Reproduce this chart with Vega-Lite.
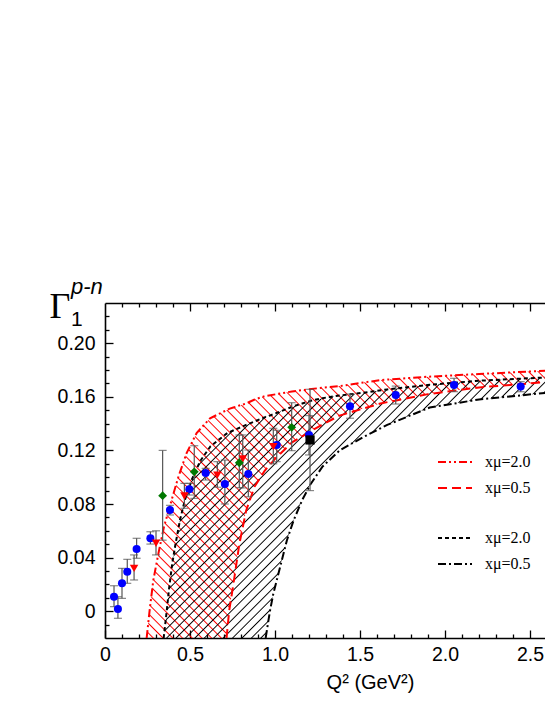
{
"$schema": "https://vega.github.io/schema/vega-lite/v6.json",
"width": 440, "height": 335,
"autosize": {"type": "none"},
"padding": {"left": 105, "top": 303, "right": 0, "bottom": 67},
"background": "white",
"config": {"view": {"stroke": null}, "axis": {"grid": false}},
"title": {"text": "p-n", "subtitle": "1", "anchor": "start", "frame": "group", "dx": -34, "offset": -43, "font": "Liberation Sans", "fontSize": 22, "fontStyle": "italic", "fontWeight": "normal", "color": "black", "subtitleFont": "Liberation Sans", "subtitleFontSize": 21, "subtitleColor": "black", "subtitlePadding": 10},
"datasets": {
"red": [
{"x":0.245,"up":-0.02,"lo":-0.02},{"x":0.262,"up":0.0,"lo":-0.02},{"x":0.284,"up":0.023,"lo":-0.02},{"x":0.314,"up":0.043,"lo":-0.02},{"x":0.347,"up":0.063,"lo":-0.02},{"x":0.392,"up":0.083,"lo":-0.02},{"x":0.431,"up":0.1,"lo":-0.02},{"x":0.48,"up":0.118,"lo":-0.02},{"x":0.539,"up":0.133,"lo":-0.02},{"x":0.618,"up":0.144,"lo":-0.02},{"x":0.715,"up":0.15,"lo":-0.02},{"x":0.73,"up":0.151,"lo":0.0},{"x":0.755,"up":0.152,"lo":0.02},{"x":0.79,"up":0.1535,"lo":0.05},{"x":0.83,"up":0.155,"lo":0.075},{"x":0.88,"up":0.158,"lo":0.093},{"x":0.94,"up":0.1605,"lo":0.105},{"x":1.01,"up":0.162,"lo":0.115},{"x":1.1,"up":0.164,"lo":0.126},{"x":1.26,"up":0.1665,"lo":0.138},{"x":1.38,"up":0.168,"lo":0.146},{"x":1.62,"up":0.1725,"lo":0.155},{"x":1.9,"up":0.175,"lo":0.162},{"x":2.2,"up":0.177,"lo":0.167},{"x":2.6,"up":0.1795,"lo":0.171}
],
"black": [
{"x":0.345,"up":-0.02,"lo":-0.02},{"x":0.363,"up":0.0,"lo":-0.02},{"x":0.376,"up":0.016,"lo":-0.02},{"x":0.396,"up":0.036,"lo":-0.02},{"x":0.416,"up":0.051,"lo":-0.02},{"x":0.441,"up":0.068,"lo":-0.02},{"x":0.47,"up":0.083,"lo":-0.02},{"x":0.51,"up":0.098,"lo":-0.02},{"x":0.56,"up":0.112,"lo":-0.02},{"x":0.62,"up":0.123,"lo":-0.02},{"x":0.72,"up":0.133,"lo":-0.02},{"x":0.83,"up":0.139,"lo":-0.02},{"x":0.945,"up":0.145,"lo":-0.02},{"x":0.97,"up":0.146,"lo":0.0},{"x":0.99,"up":0.147,"lo":0.013},{"x":1.03,"up":0.149,"lo":0.033},{"x":1.07,"up":0.151,"lo":0.053},{"x":1.11,"up":0.153,"lo":0.068},{"x":1.16,"up":0.155,"lo":0.083},{"x":1.21,"up":0.157,"lo":0.095},{"x":1.28,"up":0.159,"lo":0.108},{"x":1.38,"up":0.161,"lo":0.12},{"x":1.52,"up":0.163,"lo":0.13},{"x":1.66,"up":0.1655,"lo":0.139},{"x":1.91,"up":0.169,"lo":0.152},{"x":2.2,"up":0.172,"lo":0.158},{"x":2.6,"up":0.1745,"lo":0.163}
],
"pts": [
{"s":"blue","x":0.053,"y":0.0108,"lo":0.0034,"hi":0.019},
{"s":"blue","x":0.076,"y":0.0016,"lo":-0.0053,"hi":0.0108},
{"s":"blue","x":0.1,"y":0.0208,"lo":0.0096,"hi":0.032},
{"s":"blue","x":0.131,"y":0.0295,"lo":0.0208,"hi":0.0387},
{"s":"blue","x":0.186,"y":0.0464,"lo":0.0395,"hi":0.0544},
{"s":"blue","x":0.267,"y":0.0544,"lo":0.0501,"hi":0.0593},
{"s":"blue","x":0.382,"y":0.0755,"lo":0.0718,"hi":0.079},
{"s":"blue","x":0.496,"y":0.091,"lo":0.0867,"hi":0.0954},
{"s":"blue","x":0.592,"y":0.1031,"lo":0.0979,"hi":0.1066},
{"s":"blue","x":0.705,"y":0.0949,"lo":0.08,"hi":0.1128},
{"s":"blue","x":0.843,"y":0.1024,"lo":0.0854,"hi":0.1203},
{"s":"blue","x":1.01,"y":0.124,"lo":0.1116,"hi":0.135},
{"s":"blue","x":1.2,"y":0.1315,"lo":0.1166,"hi":0.146},
{"s":"blue","x":1.441,"y":0.153,"lo":0.144,"hi":0.162},
{"s":"blue","x":1.71,"y":0.1613,"lo":0.1546,"hi":0.168},
{"s":"blue","x":2.053,"y":0.1688,"lo":0.1638,"hi":0.1738},
{"s":"blue","x":2.445,"y":0.1676,"lo":0.1638,"hi":0.1713},
{"s":"red","x":0.171,"y":0.032,"lo":0.0233,"hi":0.042},
{"s":"red","x":0.3,"y":0.0507,"lo":0.042,"hi":0.06},
{"s":"red","x":0.467,"y":0.086,"lo":0.0768,"hi":0.0954},
{"s":"red","x":0.661,"y":0.1016,"lo":0.0925,"hi":0.1116},
{"s":"red","x":0.81,"y":0.1136,"lo":0.092,"hi":0.1315},
{"s":"red","x":0.99,"y":0.1228,"lo":0.11,"hi":0.1365},
{"s":"green","x":0.339,"y":0.0862,"lo":0.053,"hi":0.12},
{"s":"green","x":0.525,"y":0.104,"lo":0.0842,"hi":0.1235},
{"s":"green","x":0.79,"y":0.1108,"lo":0.0922,"hi":0.1315},
{"s":"green","x":1.098,"y":0.1372,"lo":0.1198,"hi":0.1556},
{"s":"black","x":1.206,"y":0.1278,"lo":0.09,"hi":0.1656}
]
},
"layer": [
{
"data": {"name": "red"},
"mark": {"type": "area", "clip": true, "stroke": null, "fill": {"gradient": "linear", "x1": 1, "y1": 0, "x2": -0.2, "y2": 0.8, "stops": [
{"offset":0.012,"color":"rgba(255,0,0,0)"},{"offset":0.014,"color":"#f00"},{"offset":0.016,"color":"rgba(255,0,0,0)"},
{"offset":0.026,"color":"rgba(255,0,0,0)"},{"offset":0.028,"color":"#f00"},{"offset":0.030,"color":"rgba(255,0,0,0)"},
{"offset":0.040,"color":"rgba(255,0,0,0)"},{"offset":0.042,"color":"#f00"},{"offset":0.044,"color":"rgba(255,0,0,0)"},
{"offset":0.054,"color":"rgba(255,0,0,0)"},{"offset":0.056,"color":"#f00"},{"offset":0.058,"color":"rgba(255,0,0,0)"},
{"offset":0.068,"color":"rgba(255,0,0,0)"},{"offset":0.070,"color":"#f00"},{"offset":0.072,"color":"rgba(255,0,0,0)"},
{"offset":0.082,"color":"rgba(255,0,0,0)"},{"offset":0.084,"color":"#f00"},{"offset":0.086,"color":"rgba(255,0,0,0)"},
{"offset":0.096,"color":"rgba(255,0,0,0)"},{"offset":0.098,"color":"#f00"},{"offset":0.100,"color":"rgba(255,0,0,0)"},
{"offset":0.110,"color":"rgba(255,0,0,0)"},{"offset":0.112,"color":"#f00"},{"offset":0.114,"color":"rgba(255,0,0,0)"},
{"offset":0.124,"color":"rgba(255,0,0,0)"},{"offset":0.126,"color":"#f00"},{"offset":0.128,"color":"rgba(255,0,0,0)"},
{"offset":0.138,"color":"rgba(255,0,0,0)"},{"offset":0.140,"color":"#f00"},{"offset":0.142,"color":"rgba(255,0,0,0)"},
{"offset":0.152,"color":"rgba(255,0,0,0)"},{"offset":0.154,"color":"#f00"},{"offset":0.156,"color":"rgba(255,0,0,0)"},
{"offset":0.166,"color":"rgba(255,0,0,0)"},{"offset":0.168,"color":"#f00"},{"offset":0.170,"color":"rgba(255,0,0,0)"},
{"offset":0.180,"color":"rgba(255,0,0,0)"},{"offset":0.182,"color":"#f00"},{"offset":0.184,"color":"rgba(255,0,0,0)"},
{"offset":0.194,"color":"rgba(255,0,0,0)"},{"offset":0.196,"color":"#f00"},{"offset":0.198,"color":"rgba(255,0,0,0)"},
{"offset":0.208,"color":"rgba(255,0,0,0)"},{"offset":0.210,"color":"#f00"},{"offset":0.212,"color":"rgba(255,0,0,0)"},
{"offset":0.222,"color":"rgba(255,0,0,0)"},{"offset":0.224,"color":"#f00"},{"offset":0.226,"color":"rgba(255,0,0,0)"},
{"offset":0.236,"color":"rgba(255,0,0,0)"},{"offset":0.238,"color":"#f00"},{"offset":0.240,"color":"rgba(255,0,0,0)"},
{"offset":0.250,"color":"rgba(255,0,0,0)"},{"offset":0.252,"color":"#f00"},{"offset":0.254,"color":"rgba(255,0,0,0)"},
{"offset":0.264,"color":"rgba(255,0,0,0)"},{"offset":0.266,"color":"#f00"},{"offset":0.268,"color":"rgba(255,0,0,0)"},
{"offset":0.278,"color":"rgba(255,0,0,0)"},{"offset":0.280,"color":"#f00"},{"offset":0.282,"color":"rgba(255,0,0,0)"},
{"offset":0.292,"color":"rgba(255,0,0,0)"},{"offset":0.294,"color":"#f00"},{"offset":0.296,"color":"rgba(255,0,0,0)"},
{"offset":0.306,"color":"rgba(255,0,0,0)"},{"offset":0.308,"color":"#f00"},{"offset":0.310,"color":"rgba(255,0,0,0)"},
{"offset":0.320,"color":"rgba(255,0,0,0)"},{"offset":0.322,"color":"#f00"},{"offset":0.324,"color":"rgba(255,0,0,0)"},
{"offset":0.334,"color":"rgba(255,0,0,0)"},{"offset":0.336,"color":"#f00"},{"offset":0.338,"color":"rgba(255,0,0,0)"},
{"offset":0.348,"color":"rgba(255,0,0,0)"},{"offset":0.350,"color":"#f00"},{"offset":0.352,"color":"rgba(255,0,0,0)"},
{"offset":0.362,"color":"rgba(255,0,0,0)"},{"offset":0.364,"color":"#f00"},{"offset":0.366,"color":"rgba(255,0,0,0)"},
{"offset":0.376,"color":"rgba(255,0,0,0)"},{"offset":0.378,"color":"#f00"},{"offset":0.380,"color":"rgba(255,0,0,0)"},
{"offset":0.390,"color":"rgba(255,0,0,0)"},{"offset":0.392,"color":"#f00"},{"offset":0.394,"color":"rgba(255,0,0,0)"},
{"offset":0.404,"color":"rgba(255,0,0,0)"},{"offset":0.406,"color":"#f00"},{"offset":0.408,"color":"rgba(255,0,0,0)"},
{"offset":0.418,"color":"rgba(255,0,0,0)"},{"offset":0.420,"color":"#f00"},{"offset":0.422,"color":"rgba(255,0,0,0)"},
{"offset":0.432,"color":"rgba(255,0,0,0)"},{"offset":0.434,"color":"#f00"},{"offset":0.436,"color":"rgba(255,0,0,0)"},
{"offset":0.446,"color":"rgba(255,0,0,0)"},{"offset":0.448,"color":"#f00"},{"offset":0.450,"color":"rgba(255,0,0,0)"},
{"offset":0.460,"color":"rgba(255,0,0,0)"},{"offset":0.462,"color":"#f00"},{"offset":0.464,"color":"rgba(255,0,0,0)"},
{"offset":0.474,"color":"rgba(255,0,0,0)"},{"offset":0.476,"color":"#f00"},{"offset":0.478,"color":"rgba(255,0,0,0)"},
{"offset":0.488,"color":"rgba(255,0,0,0)"},{"offset":0.490,"color":"#f00"},{"offset":0.492,"color":"rgba(255,0,0,0)"},
{"offset":0.502,"color":"rgba(255,0,0,0)"},{"offset":0.504,"color":"#f00"},{"offset":0.506,"color":"rgba(255,0,0,0)"},
{"offset":0.516,"color":"rgba(255,0,0,0)"},{"offset":0.518,"color":"#f00"},{"offset":0.520,"color":"rgba(255,0,0,0)"},
{"offset":0.530,"color":"rgba(255,0,0,0)"},{"offset":0.532,"color":"#f00"},{"offset":0.534,"color":"rgba(255,0,0,0)"},
{"offset":0.544,"color":"rgba(255,0,0,0)"},{"offset":0.546,"color":"#f00"},{"offset":0.548,"color":"rgba(255,0,0,0)"},
{"offset":0.558,"color":"rgba(255,0,0,0)"},{"offset":0.560,"color":"#f00"},{"offset":0.562,"color":"rgba(255,0,0,0)"},
{"offset":0.572,"color":"rgba(255,0,0,0)"},{"offset":0.574,"color":"#f00"},{"offset":0.576,"color":"rgba(255,0,0,0)"},
{"offset":0.586,"color":"rgba(255,0,0,0)"},{"offset":0.588,"color":"#f00"},{"offset":0.590,"color":"rgba(255,0,0,0)"},
{"offset":0.600,"color":"rgba(255,0,0,0)"},{"offset":0.602,"color":"#f00"},{"offset":0.604,"color":"rgba(255,0,0,0)"},
{"offset":0.614,"color":"rgba(255,0,0,0)"},{"offset":0.616,"color":"#f00"},{"offset":0.618,"color":"rgba(255,0,0,0)"},
{"offset":0.628,"color":"rgba(255,0,0,0)"},{"offset":0.630,"color":"#f00"},{"offset":0.632,"color":"rgba(255,0,0,0)"},
{"offset":0.642,"color":"rgba(255,0,0,0)"},{"offset":0.644,"color":"#f00"},{"offset":0.646,"color":"rgba(255,0,0,0)"},
{"offset":0.656,"color":"rgba(255,0,0,0)"},{"offset":0.658,"color":"#f00"},{"offset":0.660,"color":"rgba(255,0,0,0)"},
{"offset":0.670,"color":"rgba(255,0,0,0)"},{"offset":0.672,"color":"#f00"},{"offset":0.674,"color":"rgba(255,0,0,0)"},
{"offset":0.684,"color":"rgba(255,0,0,0)"},{"offset":0.686,"color":"#f00"},{"offset":0.688,"color":"rgba(255,0,0,0)"},
{"offset":0.698,"color":"rgba(255,0,0,0)"},{"offset":0.700,"color":"#f00"},{"offset":0.702,"color":"rgba(255,0,0,0)"},
{"offset":0.712,"color":"rgba(255,0,0,0)"},{"offset":0.714,"color":"#f00"},{"offset":0.716,"color":"rgba(255,0,0,0)"},
{"offset":0.726,"color":"rgba(255,0,0,0)"},{"offset":0.728,"color":"#f00"},{"offset":0.730,"color":"rgba(255,0,0,0)"},
{"offset":0.740,"color":"rgba(255,0,0,0)"},{"offset":0.742,"color":"#f00"},{"offset":0.744,"color":"rgba(255,0,0,0)"},
{"offset":0.754,"color":"rgba(255,0,0,0)"},{"offset":0.756,"color":"#f00"},{"offset":0.758,"color":"rgba(255,0,0,0)"},
{"offset":0.768,"color":"rgba(255,0,0,0)"},{"offset":0.770,"color":"#f00"},{"offset":0.772,"color":"rgba(255,0,0,0)"},
{"offset":0.782,"color":"rgba(255,0,0,0)"},{"offset":0.784,"color":"#f00"},{"offset":0.786,"color":"rgba(255,0,0,0)"},
{"offset":0.796,"color":"rgba(255,0,0,0)"},{"offset":0.798,"color":"#f00"},{"offset":0.800,"color":"rgba(255,0,0,0)"},
{"offset":0.810,"color":"rgba(255,0,0,0)"},{"offset":0.812,"color":"#f00"},{"offset":0.814,"color":"rgba(255,0,0,0)"},
{"offset":0.824,"color":"rgba(255,0,0,0)"},{"offset":0.826,"color":"#f00"},{"offset":0.828,"color":"rgba(255,0,0,0)"},
{"offset":0.838,"color":"rgba(255,0,0,0)"},{"offset":0.840,"color":"#f00"},{"offset":0.842,"color":"rgba(255,0,0,0)"},
{"offset":0.852,"color":"rgba(255,0,0,0)"},{"offset":0.854,"color":"#f00"},{"offset":0.856,"color":"rgba(255,0,0,0)"},
{"offset":0.866,"color":"rgba(255,0,0,0)"},{"offset":0.868,"color":"#f00"},{"offset":0.870,"color":"rgba(255,0,0,0)"},
{"offset":0.880,"color":"rgba(255,0,0,0)"},{"offset":0.882,"color":"#f00"},{"offset":0.884,"color":"rgba(255,0,0,0)"},
{"offset":0.894,"color":"rgba(255,0,0,0)"},{"offset":0.896,"color":"#f00"},{"offset":0.898,"color":"rgba(255,0,0,0)"},
{"offset":0.908,"color":"rgba(255,0,0,0)"},{"offset":0.910,"color":"#f00"},{"offset":0.912,"color":"rgba(255,0,0,0)"},
{"offset":0.922,"color":"rgba(255,0,0,0)"},{"offset":0.924,"color":"#f00"},{"offset":0.926,"color":"rgba(255,0,0,0)"},
{"offset":0.936,"color":"rgba(255,0,0,0)"},{"offset":0.938,"color":"#f00"},{"offset":0.940,"color":"rgba(255,0,0,0)"},
{"offset":0.950,"color":"rgba(255,0,0,0)"},{"offset":0.952,"color":"#f00"},{"offset":0.954,"color":"rgba(255,0,0,0)"},
{"offset":0.964,"color":"rgba(255,0,0,0)"},{"offset":0.966,"color":"#f00"},{"offset":0.968,"color":"rgba(255,0,0,0)"}
]}},
"encoding": {
"x": {"field": "x", "type": "quantitative", "scale": {"domain": [0, 2.588], "nice": false, "zero": false},
 "axis": {"orient": "bottom", "values": [0, 0.5, 1, 1.5, 2, 2.5], "tickSize": -8, "tickWidth": 1.3, "tickColor": "black", "domain": true, "domainColor": "black", "domainWidth": 1.6, "labelExpr": "datum.value == 0 ? '0' : format(datum.value, '.1f')", "labelFont": "Liberation Sans", "labelFontSize": 19.5, "labelColor": "black", "labelPadding": 15, "labelFlush": false, "labelOverlap": false, "labelBound": false, "title": "Q² (GeV²)", "titleFont": "Liberation Sans", "titleFontSize": 20, "titleFontWeight": "normal", "titleColor": "black", "titleX": 265, "titleY": 50, "titleAlign": "center", "titleBaseline": "alphabetic"}},
"y": {"field": "up", "type": "quantitative", "scale": {"domain": [-0.02, 0.23], "nice": false, "zero": false},
 "axis": {"orient": "left", "values": [0, 0.04, 0.08, 0.12, 0.16, 0.2], "tickSize": -8, "tickWidth": 1.3, "tickColor": "black", "domain": true, "domainColor": "black", "domainWidth": 1.6, "labelExpr": "datum.value == 0 ? '0' : format(datum.value, '.2f')", "labelFont": "Liberation Sans", "labelFontSize": 19.5, "labelColor": "black", "labelPadding": 18, "labelFlush": false, "labelOverlap": false, "labelBound": false, "title": "Γ", "titleFont": "Liberation Serif", "titleFontSize": 36, "titleFontWeight": "normal", "titleColor": "black", "titleAngle": 0, "titleAlign": "left", "titleBaseline": "alphabetic", "titleX": -56, "titleY": 14}},
"y2": {"field": "lo"}
}
},
{
"data": {"name": "black"},
"mark": {"type": "area", "clip": true, "stroke": null, "fill": {"gradient": "linear", "x1": 0, "y1": 0, "x2": 1.2, "y2": 0.816, "stops": [
{"offset":0.012,"color":"rgba(0,0,0,0)"},{"offset":0.014,"color":"#000"},{"offset":0.016,"color":"rgba(0,0,0,0)"},
{"offset":0.026,"color":"rgba(0,0,0,0)"},{"offset":0.028,"color":"#000"},{"offset":0.030,"color":"rgba(0,0,0,0)"},
{"offset":0.040,"color":"rgba(0,0,0,0)"},{"offset":0.042,"color":"#000"},{"offset":0.044,"color":"rgba(0,0,0,0)"},
{"offset":0.054,"color":"rgba(0,0,0,0)"},{"offset":0.056,"color":"#000"},{"offset":0.058,"color":"rgba(0,0,0,0)"},
{"offset":0.068,"color":"rgba(0,0,0,0)"},{"offset":0.070,"color":"#000"},{"offset":0.072,"color":"rgba(0,0,0,0)"},
{"offset":0.082,"color":"rgba(0,0,0,0)"},{"offset":0.084,"color":"#000"},{"offset":0.086,"color":"rgba(0,0,0,0)"},
{"offset":0.096,"color":"rgba(0,0,0,0)"},{"offset":0.098,"color":"#000"},{"offset":0.100,"color":"rgba(0,0,0,0)"},
{"offset":0.110,"color":"rgba(0,0,0,0)"},{"offset":0.112,"color":"#000"},{"offset":0.114,"color":"rgba(0,0,0,0)"},
{"offset":0.124,"color":"rgba(0,0,0,0)"},{"offset":0.126,"color":"#000"},{"offset":0.128,"color":"rgba(0,0,0,0)"},
{"offset":0.138,"color":"rgba(0,0,0,0)"},{"offset":0.140,"color":"#000"},{"offset":0.142,"color":"rgba(0,0,0,0)"},
{"offset":0.152,"color":"rgba(0,0,0,0)"},{"offset":0.154,"color":"#000"},{"offset":0.156,"color":"rgba(0,0,0,0)"},
{"offset":0.166,"color":"rgba(0,0,0,0)"},{"offset":0.168,"color":"#000"},{"offset":0.170,"color":"rgba(0,0,0,0)"},
{"offset":0.180,"color":"rgba(0,0,0,0)"},{"offset":0.182,"color":"#000"},{"offset":0.184,"color":"rgba(0,0,0,0)"},
{"offset":0.194,"color":"rgba(0,0,0,0)"},{"offset":0.196,"color":"#000"},{"offset":0.198,"color":"rgba(0,0,0,0)"},
{"offset":0.208,"color":"rgba(0,0,0,0)"},{"offset":0.210,"color":"#000"},{"offset":0.212,"color":"rgba(0,0,0,0)"},
{"offset":0.222,"color":"rgba(0,0,0,0)"},{"offset":0.224,"color":"#000"},{"offset":0.226,"color":"rgba(0,0,0,0)"},
{"offset":0.236,"color":"rgba(0,0,0,0)"},{"offset":0.238,"color":"#000"},{"offset":0.240,"color":"rgba(0,0,0,0)"},
{"offset":0.250,"color":"rgba(0,0,0,0)"},{"offset":0.252,"color":"#000"},{"offset":0.254,"color":"rgba(0,0,0,0)"},
{"offset":0.264,"color":"rgba(0,0,0,0)"},{"offset":0.266,"color":"#000"},{"offset":0.268,"color":"rgba(0,0,0,0)"},
{"offset":0.278,"color":"rgba(0,0,0,0)"},{"offset":0.280,"color":"#000"},{"offset":0.282,"color":"rgba(0,0,0,0)"},
{"offset":0.292,"color":"rgba(0,0,0,0)"},{"offset":0.294,"color":"#000"},{"offset":0.296,"color":"rgba(0,0,0,0)"},
{"offset":0.306,"color":"rgba(0,0,0,0)"},{"offset":0.308,"color":"#000"},{"offset":0.310,"color":"rgba(0,0,0,0)"},
{"offset":0.320,"color":"rgba(0,0,0,0)"},{"offset":0.322,"color":"#000"},{"offset":0.324,"color":"rgba(0,0,0,0)"},
{"offset":0.334,"color":"rgba(0,0,0,0)"},{"offset":0.336,"color":"#000"},{"offset":0.338,"color":"rgba(0,0,0,0)"},
{"offset":0.348,"color":"rgba(0,0,0,0)"},{"offset":0.350,"color":"#000"},{"offset":0.352,"color":"rgba(0,0,0,0)"},
{"offset":0.362,"color":"rgba(0,0,0,0)"},{"offset":0.364,"color":"#000"},{"offset":0.366,"color":"rgba(0,0,0,0)"},
{"offset":0.376,"color":"rgba(0,0,0,0)"},{"offset":0.378,"color":"#000"},{"offset":0.380,"color":"rgba(0,0,0,0)"},
{"offset":0.390,"color":"rgba(0,0,0,0)"},{"offset":0.392,"color":"#000"},{"offset":0.394,"color":"rgba(0,0,0,0)"},
{"offset":0.404,"color":"rgba(0,0,0,0)"},{"offset":0.406,"color":"#000"},{"offset":0.408,"color":"rgba(0,0,0,0)"},
{"offset":0.418,"color":"rgba(0,0,0,0)"},{"offset":0.420,"color":"#000"},{"offset":0.422,"color":"rgba(0,0,0,0)"},
{"offset":0.432,"color":"rgba(0,0,0,0)"},{"offset":0.434,"color":"#000"},{"offset":0.436,"color":"rgba(0,0,0,0)"},
{"offset":0.446,"color":"rgba(0,0,0,0)"},{"offset":0.448,"color":"#000"},{"offset":0.450,"color":"rgba(0,0,0,0)"},
{"offset":0.460,"color":"rgba(0,0,0,0)"},{"offset":0.462,"color":"#000"},{"offset":0.464,"color":"rgba(0,0,0,0)"},
{"offset":0.474,"color":"rgba(0,0,0,0)"},{"offset":0.476,"color":"#000"},{"offset":0.478,"color":"rgba(0,0,0,0)"},
{"offset":0.488,"color":"rgba(0,0,0,0)"},{"offset":0.490,"color":"#000"},{"offset":0.492,"color":"rgba(0,0,0,0)"},
{"offset":0.502,"color":"rgba(0,0,0,0)"},{"offset":0.504,"color":"#000"},{"offset":0.506,"color":"rgba(0,0,0,0)"},
{"offset":0.516,"color":"rgba(0,0,0,0)"},{"offset":0.518,"color":"#000"},{"offset":0.520,"color":"rgba(0,0,0,0)"},
{"offset":0.530,"color":"rgba(0,0,0,0)"},{"offset":0.532,"color":"#000"},{"offset":0.534,"color":"rgba(0,0,0,0)"},
{"offset":0.544,"color":"rgba(0,0,0,0)"},{"offset":0.546,"color":"#000"},{"offset":0.548,"color":"rgba(0,0,0,0)"},
{"offset":0.558,"color":"rgba(0,0,0,0)"},{"offset":0.560,"color":"#000"},{"offset":0.562,"color":"rgba(0,0,0,0)"},
{"offset":0.572,"color":"rgba(0,0,0,0)"},{"offset":0.574,"color":"#000"},{"offset":0.576,"color":"rgba(0,0,0,0)"},
{"offset":0.586,"color":"rgba(0,0,0,0)"},{"offset":0.588,"color":"#000"},{"offset":0.590,"color":"rgba(0,0,0,0)"},
{"offset":0.600,"color":"rgba(0,0,0,0)"},{"offset":0.602,"color":"#000"},{"offset":0.604,"color":"rgba(0,0,0,0)"},
{"offset":0.614,"color":"rgba(0,0,0,0)"},{"offset":0.616,"color":"#000"},{"offset":0.618,"color":"rgba(0,0,0,0)"},
{"offset":0.628,"color":"rgba(0,0,0,0)"},{"offset":0.630,"color":"#000"},{"offset":0.632,"color":"rgba(0,0,0,0)"},
{"offset":0.642,"color":"rgba(0,0,0,0)"},{"offset":0.644,"color":"#000"},{"offset":0.646,"color":"rgba(0,0,0,0)"},
{"offset":0.656,"color":"rgba(0,0,0,0)"},{"offset":0.658,"color":"#000"},{"offset":0.660,"color":"rgba(0,0,0,0)"},
{"offset":0.670,"color":"rgba(0,0,0,0)"},{"offset":0.672,"color":"#000"},{"offset":0.674,"color":"rgba(0,0,0,0)"},
{"offset":0.684,"color":"rgba(0,0,0,0)"},{"offset":0.686,"color":"#000"},{"offset":0.688,"color":"rgba(0,0,0,0)"},
{"offset":0.698,"color":"rgba(0,0,0,0)"},{"offset":0.700,"color":"#000"},{"offset":0.702,"color":"rgba(0,0,0,0)"},
{"offset":0.712,"color":"rgba(0,0,0,0)"},{"offset":0.714,"color":"#000"},{"offset":0.716,"color":"rgba(0,0,0,0)"},
{"offset":0.726,"color":"rgba(0,0,0,0)"},{"offset":0.728,"color":"#000"},{"offset":0.730,"color":"rgba(0,0,0,0)"},
{"offset":0.740,"color":"rgba(0,0,0,0)"},{"offset":0.742,"color":"#000"},{"offset":0.744,"color":"rgba(0,0,0,0)"},
{"offset":0.754,"color":"rgba(0,0,0,0)"},{"offset":0.756,"color":"#000"},{"offset":0.758,"color":"rgba(0,0,0,0)"},
{"offset":0.768,"color":"rgba(0,0,0,0)"},{"offset":0.770,"color":"#000"},{"offset":0.772,"color":"rgba(0,0,0,0)"},
{"offset":0.782,"color":"rgba(0,0,0,0)"},{"offset":0.784,"color":"#000"},{"offset":0.786,"color":"rgba(0,0,0,0)"},
{"offset":0.796,"color":"rgba(0,0,0,0)"},{"offset":0.798,"color":"#000"},{"offset":0.800,"color":"rgba(0,0,0,0)"},
{"offset":0.810,"color":"rgba(0,0,0,0)"},{"offset":0.812,"color":"#000"},{"offset":0.814,"color":"rgba(0,0,0,0)"},
{"offset":0.824,"color":"rgba(0,0,0,0)"},{"offset":0.826,"color":"#000"},{"offset":0.828,"color":"rgba(0,0,0,0)"},
{"offset":0.838,"color":"rgba(0,0,0,0)"},{"offset":0.840,"color":"#000"},{"offset":0.842,"color":"rgba(0,0,0,0)"},
{"offset":0.852,"color":"rgba(0,0,0,0)"},{"offset":0.854,"color":"#000"},{"offset":0.856,"color":"rgba(0,0,0,0)"},
{"offset":0.866,"color":"rgba(0,0,0,0)"},{"offset":0.868,"color":"#000"},{"offset":0.870,"color":"rgba(0,0,0,0)"},
{"offset":0.880,"color":"rgba(0,0,0,0)"},{"offset":0.882,"color":"#000"},{"offset":0.884,"color":"rgba(0,0,0,0)"},
{"offset":0.894,"color":"rgba(0,0,0,0)"},{"offset":0.896,"color":"#000"},{"offset":0.898,"color":"rgba(0,0,0,0)"},
{"offset":0.908,"color":"rgba(0,0,0,0)"},{"offset":0.910,"color":"#000"},{"offset":0.912,"color":"rgba(0,0,0,0)"},
{"offset":0.922,"color":"rgba(0,0,0,0)"},{"offset":0.924,"color":"#000"},{"offset":0.926,"color":"rgba(0,0,0,0)"},
{"offset":0.936,"color":"rgba(0,0,0,0)"},{"offset":0.938,"color":"#000"},{"offset":0.940,"color":"rgba(0,0,0,0)"},
{"offset":0.950,"color":"rgba(0,0,0,0)"},{"offset":0.952,"color":"#000"},{"offset":0.954,"color":"rgba(0,0,0,0)"},
{"offset":0.964,"color":"rgba(0,0,0,0)"},{"offset":0.966,"color":"#000"},{"offset":0.968,"color":"rgba(0,0,0,0)"}
]}},
"encoding": {
"x": {"field": "x", "type": "quantitative", "scale": {"domain": [0, 2.588], "nice": false, "zero": false},
 "axis": {"orient": "bottom", "values": [0.1,0.2,0.3,0.4,0.6,0.7,0.8,0.9,1.1,1.2,1.3,1.4,1.6,1.7,1.8,1.9,2.1,2.2,2.3,2.4], "tickSize": -4, "tickWidth": 1.3, "tickColor": "black", "domain": false, "labels": false, "title": null}},
"y": {"field": "up", "type": "quantitative", "scale": {"domain": [-0.02, 0.23], "nice": false, "zero": false},
 "axis": {"orient": "left", "values": [-0.01,0.01,0.02,0.03,0.05,0.06,0.07,0.09,0.1,0.11,0.13,0.14,0.15,0.17,0.18,0.19,0.21,0.22], "tickSize": -4, "tickWidth": 1.3, "tickColor": "black", "domain": false, "labels": false, "title": null}},
"y2": {"field": "lo"}
}
},
{
"data": {"name": "red"},
"transform": [{"fold": ["up", "lo"], "as": ["key", "val"]}, {"filter": "datum.key == 'up' || datum.x >= 0.715"}],
"mark": {"type": "line", "color": "#ff0000", "strokeWidth": 2, "clip": true},
"encoding": {
"x": {"field": "x", "type": "quantitative", "scale": {"domain": [0, 2.588], "nice": false, "zero": false},
 "axis": {"orient": "top", "values": [0.5, 1, 1.5, 2, 2.5], "tickSize": -8, "tickWidth": 1.3, "tickColor": "black", "domain": true, "domainColor": "black", "domainWidth": 1.6, "labels": false, "title": null}},
"y": {"field": "val", "type": "quantitative", "scale": {"domain": [-0.02, 0.23], "nice": false, "zero": false}, "axis": null},
"strokeDash": {"field": "key", "type": "nominal", "scale": {"domain": ["up", "lo"], "range": [[8, 3, 2, 3, 2, 3], [9, 5]]},
 "legend": {"orient": "none", "legendX": 332, "legendY": 141, "title": null, "padding": 0, "symbolType": "stroke", "symbolSize": 1156, "symbolStrokeWidth": 2, "symbolStrokeColor": "#ff0000", "labelFont": "Liberation Serif", "labelFontSize": 16, "labelColor": "black", "labelOffset": 12, "labelLimit": 0, "rowPadding": -5, "labelExpr": "datum.label == 'up' ? 'xμ=2.0' : 'xμ=0.5'"}}
}
},
{
"data": {"name": "black"},
"transform": [{"fold": ["up", "lo"], "as": ["key", "val"]}, {"filter": "datum.key == 'up' || datum.x >= 0.945"}],
"mark": {"type": "line", "color": "#000000", "strokeWidth": 2, "clip": true},
"encoding": {
"x": {"field": "x", "type": "quantitative", "scale": {"domain": [0, 2.588], "nice": false, "zero": false},
 "axis": {"orient": "top", "values": [0.1,0.2,0.3,0.4,0.6,0.7,0.8,0.9,1.1,1.2,1.3,1.4,1.6,1.7,1.8,1.9,2.1,2.2,2.3,2.4], "tickSize": -4, "tickWidth": 1.3, "tickColor": "black", "domain": false, "labels": false, "title": null}},
"y": {"field": "val", "type": "quantitative", "scale": {"domain": [-0.02, 0.23], "nice": false, "zero": false}, "axis": null},
"strokeDash": {"field": "key", "type": "nominal", "scale": {"domain": ["up", "lo"], "range": [[4, 3], [8, 3, 2, 3]]},
 "legend": {"orient": "none", "legendX": 332, "legendY": 217, "title": null, "padding": 0, "symbolType": "stroke", "symbolSize": 1156, "symbolStrokeWidth": 2, "symbolStrokeColor": "#000000", "labelFont": "Liberation Serif", "labelFontSize": 16, "labelColor": "black", "labelOffset": 12, "labelLimit": 0, "rowPadding": -5, "labelExpr": "datum.label == 'up' ? 'xμ=2.0' : 'xμ=0.5'"}}
}
},
{
"data": {"name": "pts"},
"mark": {"type": "errorbar", "ticks": {"size": 8}, "color": "#555555", "thickness": 1.2},
"encoding": {
"x": {"field": "x", "type": "quantitative", "scale": {"domain": [0, 2.588], "nice": false, "zero": false}, "axis": null},
"y": {"field": "lo", "type": "quantitative", "scale": {"domain": [-0.02, 0.23], "nice": false, "zero": false}, "axis": null},
"y2": {"field": "hi"}
}
},
{
"data": {"name": "pts"},
"mark": {"type": "point", "filled": true, "opacity": 1, "clip": true},
"encoding": {
"x": {"field": "x", "type": "quantitative", "scale": {"domain": [0, 2.588], "nice": false, "zero": false}, "axis": null},
"y": {"field": "y", "type": "quantitative", "scale": {"domain": [-0.02, 0.23], "nice": false, "zero": false}, "axis": null},
"shape": {"field": "s", "type": "nominal", "scale": {"domain": ["blue", "red", "green", "black"], "range": ["circle", "triangle-down", "diamond", "square"]}, "legend": null},
"color": {"field": "s", "type": "nominal", "scale": {"domain": ["blue", "red", "green", "black"], "range": ["#0000ff", "#ff0000", "#007800", "#000000"]}, "legend": null},
"size": {"field": "s", "type": "nominal", "scale": {"domain": ["blue", "red", "green", "black"], "range": [65, 85, 95, 55]}, "legend": null}
}
}
],
"resolve": {"axis": {"x": "independent", "y": "independent"}, "scale": {"strokeDash": "independent"}, "legend": {"strokeDash": "independent"}}
}
